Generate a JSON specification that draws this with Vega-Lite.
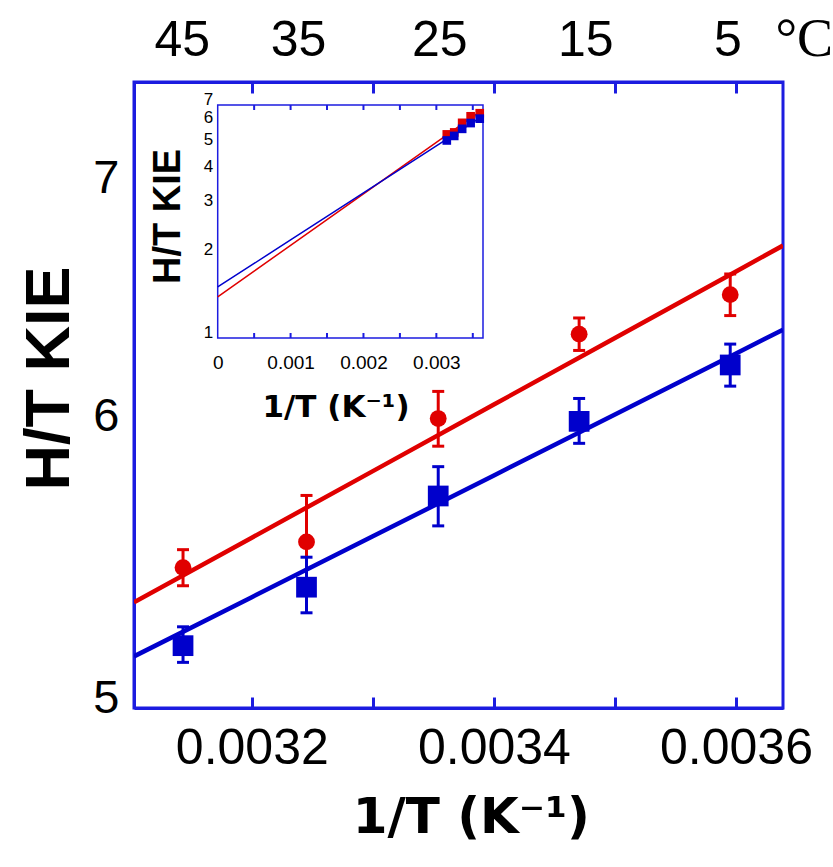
{
  "$schema": "https://vega.github.io/schema/vega-lite/v6.json",
  "width": 649,
  "height": 626,
  "autosize": {"type": "none"},
  "padding": {"left": 134, "top": 82, "right": 50, "bottom": 159},
  "config": {
    "view": {"stroke": "#1c1ce0", "strokeWidth": 3},
    "axis": {"domainColor": "#1c1ce0", "tickColor": "#1c1ce0", "labelColor": "#000000", "titleColor": "#000000", "grid": false, "labelFont": "Liberation Sans", "labelOverlap": false, "labelFlush": false, "labelBound": false}
  },
  "datasets": {
    "pts": [
      {"s": "A", "x": 0.0031432, "kie": 5.476, "lo": 5.412, "hi": 5.540},
      {"s": "A", "x": 0.0032452, "kie": 5.568, "lo": 5.398, "hi": 5.738},
      {"s": "A", "x": 0.0033540, "kie": 6.031, "lo": 5.924, "hi": 6.138},
      {"s": "A", "x": 0.0034704, "kie": 6.370, "lo": 6.303, "hi": 6.437},
      {"s": "A", "x": 0.0035952, "kie": 6.535, "lo": 6.447, "hi": 6.623},
      {"s": "B", "x": 0.0031432, "kie": 5.206, "lo": 5.150, "hi": 5.270},
      {"s": "B", "x": 0.0032452, "kie": 5.407, "lo": 5.318, "hi": 5.513},
      {"s": "B", "x": 0.0033540, "kie": 5.736, "lo": 5.626, "hi": 5.846},
      {"s": "B", "x": 0.0034704, "kie": 6.020, "lo": 5.935, "hi": 6.110},
      {"s": "B", "x": 0.0035952, "kie": 6.244, "lo": 6.159, "hi": 6.329}
    ],
    "fit": [
      {"s": "A", "x": 0.0031027, "kie": 5.354},
      {"s": "A", "x": 0.0032, "kie": 5.583},
      {"s": "A", "x": 0.0033, "kie": 5.829},
      {"s": "A", "x": 0.0034, "kie": 6.086},
      {"s": "A", "x": 0.0035, "kie": 6.354},
      {"s": "A", "x": 0.0036, "kie": 6.634},
      {"s": "A", "x": 0.0036388, "kie": 6.746},
      {"s": "B", "x": 0.0031027, "kie": 5.170},
      {"s": "B", "x": 0.0032, "kie": 5.372},
      {"s": "B", "x": 0.0033, "kie": 5.588},
      {"s": "B", "x": 0.0034, "kie": 5.813},
      {"s": "B", "x": 0.0035, "kie": 6.047},
      {"s": "B", "x": 0.0036, "kie": 6.291},
      {"s": "B", "x": 0.0036388, "kie": 6.388}
    ],
    "ins": [
      {"s": "A", "x": 0, "kie": 1.41},
      {"s": "A", "x": 0.0005, "kie": 1.748},
      {"s": "A", "x": 0.001, "kie": 2.168},
      {"s": "A", "x": 0.0015, "kie": 2.688},
      {"s": "A", "x": 0.002, "kie": 3.333},
      {"s": "A", "x": 0.0025, "kie": 4.132},
      {"s": "A", "x": 0.003, "kie": 5.123},
      {"s": "A", "x": 0.00364, "kie": 6.746},
      {"s": "B", "x": 0, "kie": 1.532},
      {"s": "B", "x": 0.0005, "kie": 1.864},
      {"s": "B", "x": 0.001, "kie": 2.268},
      {"s": "B", "x": 0.0015, "kie": 2.760},
      {"s": "B", "x": 0.002, "kie": 3.358},
      {"s": "B", "x": 0.0025, "kie": 4.086},
      {"s": "B", "x": 0.003, "kie": 4.971},
      {"s": "B", "x": 0.00364, "kie": 6.389}
    ],
    "iticks": [
      {"x": 0.0005}, {"x": 0.001}, {"x": 0.0015}, {"x": 0.002},
      {"x": 0.0025}, {"x": 0.003}, {"x": 0.0035}
    ],
    "frame": [{"x0": 0, "x1": 0.00364, "y0": 1, "y1": 7}]
  },
  "layer": [
    {
      "layer": [
        {
          "data": {"name": "fit"},
          "mark": {"type": "line", "strokeWidth": 4.5, "clip": true},
          "encoding": {
            "x": {"field": "x", "type": "quantitative",
              "scale": {"domain": [0.0031027, 0.0036388], "nice": false, "zero": false},
              "axis": {"orient": "bottom", "values": [0.0032, 0.0034, 0.0036], "format": ".4f", "ticks": false, "domain": true, "domainWidth": 3,
                "labelFontSize": 50, "labelBaseline": "alphabetic", "labelPadding": 55.6,
                "title": "1/T (K⁻¹)", "titleFont": "DejaVu Sans", "titleFontSize": 50, "titleFontWeight": "bold",
                "titleBaseline": "alphabetic", "titleAlign": "center", "titleX": 336.8, "titleY": 124.5}},
            "y": {"field": "kie", "type": "quantitative",
              "scale": {"type": "log", "domain": [5, 7.5], "nice": false},
              "axis": {"orient": "left", "values": [5, 6, 7], "format": "d", "ticks": false, "domain": true, "domainWidth": 3,
                "labelFontSize": 47, "labelPadding": 15, "labelBaseline": "middle", "labelOffset": -10,
                "title": "H/T KIE", "titleFont": "Liberation Sans", "titleFontSize": 63, "titleFontWeight": "bold",
                "titleAngle": -90, "titleBaseline": "alphabetic", "titleAlign": "center", "titleX": -66, "titleY": 296}},
            "color": {"field": "s", "type": "nominal", "scale": {"domain": ["A", "B"], "range": ["#e00000", "#0000cc"]}, "legend": null}
          }
        },
        {
          "data": {"name": "pts"},
          "mark": {"type": "rule", "strokeWidth": 3},
          "encoding": {
            "x": {"field": "x", "type": "quantitative",
              "axis": {"orient": "bottom", "values": [0.0032, 0.0033, 0.0034, 0.0035, 0.0036], "labels": false, "domain": false, "ticks": true, "tickSize": -11, "tickWidth": 3, "title": null, "zindex": 1}},
            "y": {"field": "lo", "type": "quantitative", "axis": null},
            "y2": {"field": "hi"},
            "color": {"field": "s", "type": "nominal", "legend": null}
          }
        },
        {
          "data": {"name": "pts"},
          "mark": {"type": "tick", "orient": "horizontal", "size": 12, "thickness": 3, "opacity": 1},
          "encoding": {
            "x": {"field": "x", "type": "quantitative",
              "axis": {"orient": "top", "values": [0.0032, 0.0033, 0.0034, 0.0035, 0.0036], "labels": false, "domain": true, "domainWidth": 3, "ticks": true, "tickSize": -11, "tickWidth": 3, "title": null, "zindex": 1}},
            "y": {"field": "lo", "type": "quantitative", "axis": null},
            "color": {"field": "s", "type": "nominal", "legend": null}
          }
        },
        {
          "data": {"name": "pts"},
          "mark": {"type": "tick", "orient": "horizontal", "size": 12, "thickness": 3, "opacity": 1},
          "encoding": {
            "x": {"field": "x", "type": "quantitative",
              "axis": {"orient": "top", "values": [0.0031421, 0.0032382, 0.0033548, 0.0034754, 0.0035928],
                "labelExpr": "format(round((1/datum.value - 273.15)/5)*5, 'd')",
                "ticks": false, "tickSize": 0, "domain": false, "labelFontSize": 50, "labelBaseline": "alphabetic", "labelPadding": 27,
                "title": "°C", "titleFont": "Liberation Serif", "titleFontSize": 54, "titleFontWeight": "normal",
                "titleAngle": 0, "titleAlign": "left", "titleBaseline": "alphabetic", "titleX": 641, "titleY": -27}},
            "y": {"field": "hi", "type": "quantitative", "axis": null},
            "color": {"field": "s", "type": "nominal", "legend": null}
          }
        },
        {
          "data": {"name": "pts"},
          "mark": {"type": "point", "filled": true, "opacity": 1},
          "encoding": {
            "x": {"field": "x", "type": "quantitative", "axis": null},
            "y": {"field": "kie", "type": "quantitative", "axis": null},
            "color": {"field": "s", "type": "nominal", "legend": null},
            "shape": {"field": "s", "type": "nominal", "scale": {"domain": ["A", "B"], "range": ["circle", "square"]}, "legend": null},
            "size": {"field": "s", "type": "ordinal", "scale": {"domain": ["A", "B"], "range": [283, 430]}, "legend": null}
          }
        }
      ],
      "resolve": {"axis": {"x": "independent", "y": "independent"}}
    },
    {
      "layer": [
        {
          "data": {"name": "frame"},
          "mark": {"type": "rect", "fill": "white", "fillOpacity": 0, "stroke": "#1c1ce0", "strokeWidth": 1.5},
          "encoding": {
            "x": {"field": "x0", "type": "quantitative",
              "scale": {"domain": [0, 0.00364], "range": [83.7, 349], "nice": false, "zero": false},
              "axis": {"orient": "bottom", "offset": -370, "values": [0, 0.001, 0.002, 0.003],
                "labelExpr": "datum.value == 0 ? '0' : format(datum.value, '.3f')",
                "ticks": false, "tickSize": 0, "domain": false, "labelFontSize": 19, "labelBaseline": "alphabetic", "labelPadding": 30, "zindex": 1,
                "title": "1/T (K⁻¹)", "titleFont": "DejaVu Sans", "titleFontSize": 31, "titleFontWeight": "bold",
                "titleBaseline": "alphabetic", "titleAlign": "center", "titleX": 201.5, "titleY": 78.7}},
            "x2": {"field": "x1"},
            "y": {"field": "y0", "type": "quantitative",
              "scale": {"type": "log", "domain": [1, 7], "range": [256, 23], "nice": false},
              "axis": {"orient": "left", "offset": -83.7, "values": [1, 2, 3, 4, 5, 6, 7], "format": "d",
                "ticks": false, "tickSize": 0, "domain": false, "labelFontSize": 17, "labelPadding": 5, "labelBaseline": "middle", "labelOffset": -6, "zindex": 1,
                "title": "H/T KIE", "titleFont": "Liberation Sans", "titleFontSize": 38, "titleFontWeight": "bold",
                "titleAngle": -90, "titleBaseline": "alphabetic", "titleAlign": "center", "titleX": -38.7, "titleY": 134}},
            "y2": {"field": "y1"}
          }
        },
        {
          "data": {"name": "iticks"},
          "mark": {"type": "tick", "orient": "vertical", "size": 5, "thickness": 2, "yOffset": -2.5, "color": "#1c1ce0", "opacity": 1},
          "encoding": {
            "x": {"field": "x", "type": "quantitative", "axis": null},
            "y": {"datum": 1, "type": "quantitative", "axis": null}
          }
        },
        {
          "data": {"name": "iticks"},
          "mark": {"type": "tick", "orient": "vertical", "size": 5, "thickness": 2, "yOffset": 2.5, "color": "#1c1ce0", "opacity": 1},
          "encoding": {
            "x": {"field": "x", "type": "quantitative", "axis": null},
            "y": {"datum": 7, "type": "quantitative", "axis": null}
          }
        },
        {
          "data": {"name": "ins"},
          "mark": {"type": "line", "strokeWidth": 1.5},
          "encoding": {
            "x": {"field": "x", "type": "quantitative", "axis": null},
            "y": {"field": "kie", "type": "quantitative", "axis": null},
            "color": {"field": "s", "type": "nominal", "legend": null}
          }
        },
        {
          "data": {"name": "pts"},
          "mark": {"type": "square", "filled": true, "size": 75, "opacity": 1},
          "encoding": {
            "x": {"field": "x", "type": "quantitative", "axis": null},
            "y": {"field": "kie", "type": "quantitative", "axis": null},
            "color": {"field": "s", "type": "nominal", "legend": null}
          }
        }
      ],
      "resolve": {"axis": {"x": "independent", "y": "independent"}}
    }
  ],
  "resolve": {"scale": {"x": "independent", "y": "independent"}}
}
